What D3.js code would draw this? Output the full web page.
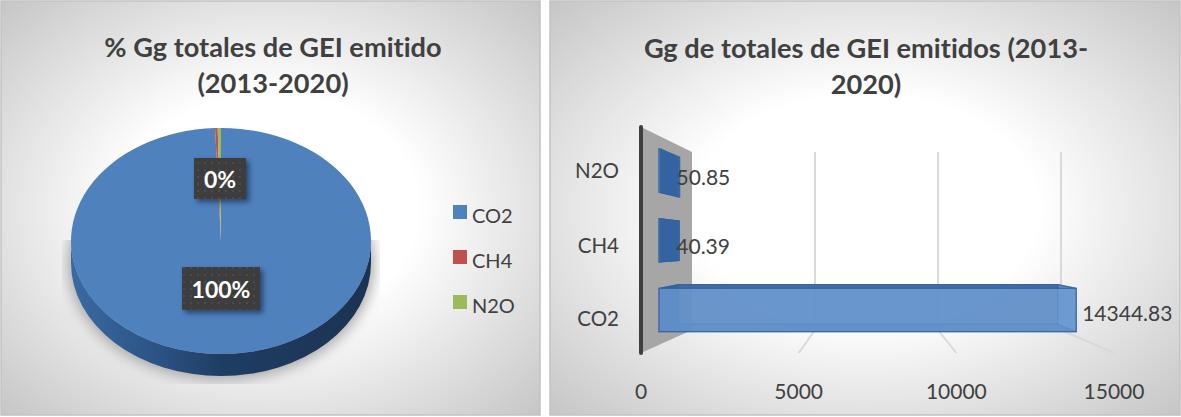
<!DOCTYPE html>
<html lang="es">
<head>
<meta charset="utf-8">
<script src="https://cdn.jsdelivr.net/npm/d3@7/dist/d3.min.js"></script>
<style>
html, body { margin: 0; padding: 0; background: #fff; }
svg { display: block; }
text { font-family: Lato, "Open Sans", sans-serif; font-variant-ligatures: none; }
</style>
</head>
<body>
<svg id="chart" width="1181" height="417"></svg>
<script>
// Emissions by gas, in Gg
const gases = ["CO2", "CH4", "N2O"];
const emissions = [14344.83, 40.39, 50.85];
const emissionLabels = ["14344.83", "40.39", "50.85"];
const shareLabels = ["100%", "0%"];
const pieColors = ["#4f81bd", "#c0504d", "#9bbb59"];
const valueTicks = [0, 5000, 10000, 15000];
const pieTitle = ["% Gg totales de GEI emitido", "(2013-2020)"];
const barTitle = ["Gg de totales de GEI emitidos (2013-", "2020)"];

const svg = d3.select("#chart");
const defs = svg.append("defs");

// Shared panel background: white centre fading to grey corners
const panelFill = defs.append("radialGradient").attr("id", "panelFill")
  .attr("cx", "50%").attr("cy", "50%").attr("r", "72%");
panelFill.append("stop").attr("offset", "0.38").attr("stop-color", "#ffffff");
panelFill.append("stop").attr("offset", "1").attr("stop-color", "#c4c4c4");

// Dotted texture of the percentage tags
const dots = defs.append("pattern").attr("id", "tagDots")
  .attr("width", 7).attr("height", 7).attr("patternUnits", "userSpaceOnUse");
dots.append("rect").attr("width", 7).attr("height", 7).attr("fill", "#3d3d3d");
dots.append("circle").attr("cx", 2).attr("cy", 2).attr("r", 0.9).attr("fill", "#525252");

const soft = defs.append("filter").attr("id", "soft")
  .attr("x", "-20%").attr("y", "-20%").attr("width", "140%").attr("height", "140%");
soft.append("feGaussianBlur").attr("stdDeviation", 7);
const tagShadow = defs.append("filter").attr("id", "tagShadow")
  .attr("x", "-20%").attr("y", "-20%").attr("width", "150%").attr("height", "150%");
tagShadow.append("feDropShadow").attr("dx", 3).attr("dy", 3).attr("stdDeviation", 2.5)
  .attr("flood-color", "#10233c").attr("flood-opacity", 0.65);

const edgeFill = defs.append("linearGradient").attr("id", "pieEdge");
[[0, "#3a6aa3"], [0.3, "#2a5283"], [0.5, "#1f3d63"], [1, "#1b3352"]].forEach(([o, c]) =>
  edgeFill.append("stop").attr("offset", o).attr("stop-color", c));

function panel(x, w) {
  svg.append("rect").attr("x", x + 1).attr("y", 1).attr("width", w - 2).attr("height", 414)
    .attr("fill", "url(#panelFill)").attr("stroke", "#c2c2c2").attr("stroke-width", 1.5);
}
function title(lines, cx, top, size) {
  svg.append("g").selectAll("text").data(lines).join("text")
    .attr("x", cx).attr("y", (d, i) => top + i * 35.5)
    .attr("text-anchor", "middle").attr("font-size", size).attr("font-weight", 700)
    .attr("fill", "#404040").text(d => d);
}

panel(0, 541);
panel(549, 632);
title(pieTitle, 273, 57, 27.2);
title(barTitle, 866, 58, 27.2);

/* ---------- Pie panel ---------- */
const pieX = 221, pieY = 241, pieRx = 150, pieRy = 113, pieDepth = 22;
const pieG = svg.append("g");

// Soft shadow on the floor, cut off by the plot area
defs.append("clipPath").attr("id", "floorClip").append("rect")
  .attr("x", 62).attr("y", 240).attr("width", 318).attr("height", 144);
pieG.append("g").attr("clip-path", "url(#floorClip)")
  .append("ellipse").attr("cx", pieX).attr("cy", pieY + pieDepth + 1)
  .attr("rx", pieRx + 3).attr("ry", pieRy + 3).attr("fill", "#a6a6a6").attr("filter", "url(#soft)");

// Rim of the disc, then the sliced top face
const rimArc = d3.arc().innerRadius(0).outerRadius(pieRx);
pieG.append("path")
  .attr("d", `M${pieX - pieRx},${pieY} A${pieRx},${pieRy} 0 0 0 ${pieX + pieRx},${pieY} `
    + `V${pieY + pieDepth} A${pieRx},${pieRy} 0 0 1 ${pieX - pieRx},${pieY + pieDepth} Z`)
  .attr("fill", "url(#pieEdge)");

const slices = d3.pie().sort(null)(emissions);
pieG.append("g")
  .attr("transform", `translate(${pieX},${pieY}) scale(1,${pieRy / pieRx})`)
  .selectAll("path").data(slices).join("path")
  .attr("d", rimArc).attr("fill", (d, i) => pieColors[i]);

// Percentage tags
function tag(label, cx, top, w, h, size) {
  const g = svg.append("g");
  g.append("rect").attr("x", cx - w / 2).attr("y", top).attr("width", w).attr("height", h)
    .attr("fill", "url(#tagDots)").attr("filter", "url(#tagShadow)");
  g.append("text").attr("x", cx).attr("y", top + h / 2 + size * 0.4)
    .attr("text-anchor", "middle").attr("font-size", size).attr("font-weight", 700)
    .attr("fill", "#fff").text(label);
}
tag(shareLabels[0], 221, 267, 78, 43, 23);
tag(shareLabels[1], 220, 158, 52, 41, 23);

// Legend
const legendY = d3.scalePoint().domain(gases).range([212, 302]);
const legend = svg.append("g").selectAll("g").data(gases).join("g")
  .attr("transform", d => `translate(453,${legendY(d)})`);
legend.append("rect").attr("y", -7).attr("width", 14).attr("height", 14)
  .attr("fill", (d, i) => pieColors[i]);
legend.append("text").attr("x", 19).attr("y", 11).attr("font-size", 20)
  .attr("fill", "#404040").text(d => d);

/* ---------- 3D bar panel ---------- */
// Horizontal value scales at the near (front) and far (back) edge of the floor
const xNear = d3.scaleLinear().domain([0, 15000]).range([641, 1114]);
const xFar = d3.scaleLinear().domain([0, 15000]).range([692, 1061]);
// Category bands at the same two depths
const yNear = d3.scaleBand().domain(gases).range([353, 127]);
const yFar = d3.scaleBand().domain(gases).range([330, 152]);
const xAt = (v, t) => d3.interpolateNumber(xNear(v), xFar(v))(t);
const yAt = (c, f, t) => {
  const near = yNear(c) + f * yNear.bandwidth();
  const far = yFar(c) + f * yFar.bandwidth();
  return d3.interpolateNumber(near, far)(t);
};
const quad = pts => "M" + pts.map(p => p.join(",")).join("L") + "Z";

const bars3d = svg.append("g");

// Side wall behind the axis
bars3d.append("path")
  .attr("d", quad([[xNear(0), yNear.range()[1]], [xFar(0), yFar.range()[1]],
                   [xFar(0), yFar.range()[0]], [xNear(0), yNear.range()[0]]]))
  .attr("fill", "#a6a6a6");

// Gridlines on the back wall and across the floor
const grid = bars3d.append("g").selectAll("g").data(valueTicks.slice(1)).join("g");
grid.append("line")
  .attr("x1", d => xFar(d)).attr("x2", d => xFar(d))
  .attr("y1", yFar.range()[1]).attr("y2", yFar.range()[0])
  .attr("stroke", "#d9d9d9").attr("stroke-width", 2);
grid.append("line")
  .attr("x1", d => xFar(d)).attr("x2", d => xNear(d))
  .attr("y1", yFar.range()[0]).attr("y2", yNear.range()[0])
  .attr("stroke", "#d9d9d9").attr("stroke-width", 2);

// Each bar is a translucent box between two depths; faces are painted back to front
const frontDepth = 0.354, backDepth = 0.73, gapShare = 0.19;
const barData = gases.map((g, i) => ({ gas: g, value: emissions[i], label: emissionLabels[i] }));
function faces(d) {
  const c = d.gas, v = d.value, lo = gapShare, hi = 1 - gapShare;
  const p = (val, f, t) => [xAt(val, t), yAt(c, f, t)];
  return [
    { fill: "#3b6ba5", a: 0.8, pts: [p(0, lo, backDepth), p(v, lo, backDepth), p(v, hi, backDepth), p(0, hi, backDepth)] },
    { fill: "#2f5f9b", a: 0.85, pts: [p(0, hi, frontDepth), p(v, hi, frontDepth), p(v, hi, backDepth), p(0, hi, backDepth)] },
    { fill: "#3a6aa8", a: 0.85, pts: [p(0, lo, frontDepth), p(v, lo, frontDepth), p(v, lo, backDepth), p(0, lo, backDepth)] },
    { fill: "#5e8dc6", a: 0.85, pts: [p(v, lo, frontDepth), p(v, hi, frontDepth), p(v, hi, backDepth), p(v, lo, backDepth)] },
    { fill: "#30619d", a: 0.92, pts: [p(0, lo, frontDepth), p(0, hi, frontDepth), p(0, hi, backDepth), p(0, lo, backDepth)] },
    { fill: "#6c9ad2", a: 0.76, pts: [p(0, lo, frontDepth), p(v, lo, frontDepth), p(v, hi, frontDepth), p(0, hi, frontDepth)] }
  ];
}
const boxes = bars3d.append("g").selectAll("g").data(barData).join("g");
boxes.selectAll("path").data(faces).join("path")
  .attr("d", f => quad(f.pts))
  .attr("fill", f => f.fill).attr("fill-opacity", f => f.a)
  .attr("stroke", "#33639f").attr("stroke-opacity", 0.8).attr("stroke-width", 1.2);

// Axis spine
bars3d.append("line")
  .attr("x1", xNear(0)).attr("x2", xNear(0))
  .attr("y1", yNear.range()[1]).attr("y2", yNear.range()[0])
  .attr("stroke", "#3f3f3f").attr("stroke-width", 4).attr("stroke-linecap", "round");

// Value labels sit just past the end of each bar
boxes.append("text")
  .attr("x", d => d.value > 1000 ? xAt(d.value, frontDepth) + 6 : xAt(d.value, backDepth) - 3)
  .attr("y", d => yAt(d.gas, 0.5, frontDepth) + (d.value > 1000 ? 11 : 14))
  .attr("font-size", 21).attr("fill", "#404040").text(d => d.label);

// Category labels
svg.append("g").selectAll("text").data(gases).join("text")
  .attr("x", 619).attr("y", d => yNear(d) + yNear.bandwidth() / 2 + (d === "CO2" ? 11 : 13))
  .attr("text-anchor", "end").attr("font-size", 20.5).attr("fill", "#404040").text(d => d);

// Value axis labels
svg.append("g").selectAll("text").data(valueTicks).join("text")
  .attr("x", d => xNear(d)).attr("y", 399)
  .attr("text-anchor", "middle").attr("font-size", 21).attr("fill", "#404040").text(d => d);
</script>
</body>
</html>
